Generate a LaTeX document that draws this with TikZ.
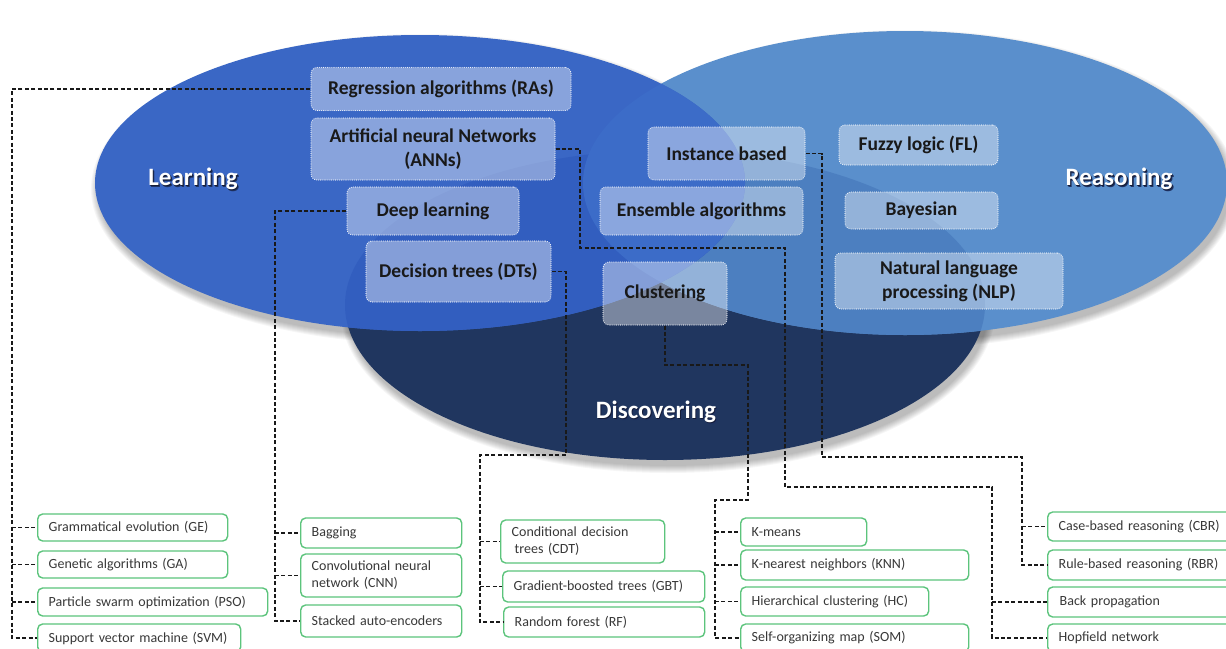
\documentclass[tikz,border=0pt]{standalone}
\usepackage{fontspec}
\setmainfont{Carlito}
\definecolor{learnC}{RGB}{58,103,197}
\definecolor{reasonC}{RGB}{90,143,204}
\definecolor{discC}{RGB}{32,54,95}
\definecolor{rdC}{RGB}{76,127,192}
\definecolor{ldC}{RGB}{50,94,191}
\definecolor{lrC}{RGB}{60,108,200}
\definecolor{gboxC}{RGB}{92,196,124}
\definecolor{lineC}{RGB}{25,25,25}
\definecolor{glowC}{RGB}{20,28,55}
\newcommand\gb[7]{\node[gbox, minimum width=#4pt, minimum height=#5pt, text width=#6pt] (#1) at (#2,#3) {#7};}
\newcommand\glowtext[1]{\makebox[0pt][l]{\hspace{1.6pt}\raisebox{-1.6pt}{\textcolor{glowC!70!learnC}{#1}}}\makebox[0pt][l]{\hspace{0.8pt}\raisebox{-0.8pt}{\textcolor{glowC}{#1}}}#1}
\begin{document}
\begin{tikzpicture}[x=1pt,y=-1pt,
  ubox/.style={draw=white, line width=1.1pt, dash pattern=on 0pt off 2.1pt, line cap=round,
    rounded corners=6pt, fill=white, fill opacity=0.4, text opacity=1, draw opacity=0.95,
    text=black!90, font=\fontsize{19.5}{24}\selectfont\bfseries, align=center, inner sep=0pt},
  gbox/.style={draw=gboxC, line width=1.4pt, rounded corners=5pt, fill=white, anchor=west,
    align=left, inner xsep=11pt, inner ysep=0pt, font=\fontsize{14}{17}\selectfont, text=black!78},
  conn/.style={draw=lineC, line width=1.8pt, dash pattern=on 4pt off 2.4pt},
  lbl/.style={text=white, font=\fontsize{25}{30}\selectfont\bfseries, inner sep=0pt}
]
\clip (0,0) rectangle (1226,648);
\fill[white] (0,0) rectangle (1226,648);

% soft shadows
\foreach \r in {0,1,...,7} {
  \fill[black, opacity=0.035] (668,311) ellipse [x radius=320pt+\r pt, y radius=155pt+\r pt];
  \fill[black, opacity=0.035] (908,189) ellipse [x radius=322pt+\r pt, y radius=152pt+\r pt];
  \fill[black, opacity=0.035] (423,189) ellipse [x radius=325pt+\r pt, y radius=148pt+\r pt];
}
% ellipses
\fill[discC] (665,305) ellipse [x radius=320pt, y radius=155pt];
\fill[reasonC] (905,183) ellipse [x radius=322pt, y radius=152pt];
\begin{scope}
  \clip (905,183) ellipse [x radius=322pt, y radius=152pt];
  \fill[rdC] (665,305) ellipse [x radius=320pt, y radius=155pt];
\end{scope}
\fill[learnC] (420,183) ellipse [x radius=325pt, y radius=148pt];
\begin{scope}
  \clip (420,183) ellipse [x radius=325pt, y radius=148pt];
  \fill[ldC] (665,305) ellipse [x radius=320pt, y radius=155pt];
  \fill[lrC] (905,183) ellipse [x radius=322pt, y radius=152pt];
\end{scope}

% ellipse labels
\node[lbl] (LL) at (193,180) {\glowtext{Learning}};
\node[lbl] (RL) at (1119,180) {\glowtext{Reasoning}};
\node[lbl] (DLab) at (656,413) {\glowtext{Discovering}};

% upper boxes
\node[ubox, minimum width=260pt, minimum height=43pt] (RA) at (441,89) {Regression algorithms (RAs)};
\node[ubox, minimum width=244pt, minimum height=62pt] (ANN) at (433,149) {Artificial neural Networks\\(ANNs)};
\node[ubox, minimum width=172pt, minimum height=48pt] (DL) at (433,211) {Deep learning};
\node[ubox, minimum width=185pt, minimum height=61pt] (DT) at (458.5,271.5) {Decision trees (DTs)};
\node[ubox, minimum width=157pt, minimum height=53pt] (IB) at (726.5,153.5) {Instance based};
\node[ubox, minimum width=203pt, minimum height=48pt] (EA) at (701.5,211) {Ensemble algorithms};
\node[ubox, minimum width=124pt, minimum height=63pt] (CL) at (665,293.5) {Clustering};
\node[ubox, minimum width=159pt, minimum height=40pt] (FL) at (918.5,145) {Fuzzy logic (FL)};
\node[ubox, minimum width=153pt, minimum height=37pt] (BA) at (921.5,210.5) {Bayesian};
\node[ubox, minimum width=228pt, minimum height=56pt] (NLP) at (949,281) {Natural language\\processing (NLP)};

% lower boxes
\gb{GE}{37}{527.5}{190}{27}{168}{Grammatical evolution (GE)}
\gb{GA}{37}{564.5}{190}{27}{168}{Genetic algorithms (GA)}
\gb{PSO}{37}{602}{230}{28}{208}{Particle swarm optimization (PSO)}
\gb{SVM}{37}{638}{203}{28}{181}{Support vector machine (SVM)}
\gb{BAG}{300}{533}{161}{30}{139}{Bagging}
\gb{CNN}{300}{575.5}{161}{43}{139}{Convolutional neural\\network (CNN)}
\gb{SAE}{300}{621}{161}{32}{139}{Stacked auto-encoders}
\gb{CDT}{500}{541.5}{164}{43}{142}{Conditional decision\\\hspace*{3pt}trees (CDT)}
\gb{GBT}{502}{586.5}{202}{31}{180}{Gradient-boosted trees (GBT)}
\gb{RF}{503}{622}{201}{30}{179}{Random forest (RF)}
\gb{KM}{740}{532}{126}{28}{104}{K-means}
\gb{KNN}{740}{565}{228}{30}{206}{K-nearest neighbors (KNN)}
\gb{HC}{740}{601.5}{188}{29}{166}{Hierarchical clustering (HC)}
\gb{SOM}{740}{638}{228}{28}{206}{Self-organizing map (SOM)}
\gb{CBR}{1047}{526.5}{200}{29}{178}{Case-based reasoning (CBR)}
\gb{RBR}{1047}{565}{200}{30}{178}{Rule-based reasoning (RBR)}
\gb{BP}{1047}{602}{200}{30}{178}{\hspace*{1pt}Back propagation}
\gb{HN}{1047}{638}{200}{28}{178}{Hopfield network}

% connectors
\coordinate (t1) at (12,89);
\draw[conn] (RA.west) -- (t1) |- (SVM.west);
\foreach \n in {GE,GA,PSO} \draw[conn] (t1 |- \n.west) -- (\n.west);

\coordinate (t2) at (275,211);
\draw[conn] (DL.west) -- (t2) |- (SAE.west);
\foreach \n in {BAG,CNN} \draw[conn] (t2 |- \n.west) -- (\n.west);

\coordinate (d1) at (566,455);
\coordinate (t3) at (480,455);
\draw[conn] (DT.east) -| (d1) -- (t3) |- (RF.west);
\foreach \n in {CDT,GBT} \draw[conn] (t3 |- \n.west) -- (\n.west);

\coordinate (c1) at (748,365);
\coordinate (c2) at (748,500);
\coordinate (t4) at (715,500);
\draw[conn] (CL.south) |- (c1) -- (c2) -- (t4) |- (SOM.west);
\foreach \n in {KM,KNN,HC} \draw[conn] (t4 |- \n.west) -- (\n.west);

\coordinate (a1) at (580,248);
\coordinate (a2) at (785,248);
\coordinate (a3) at (785,487);
\coordinate (t5) at (992,487);
\draw[conn] (ANN.east) -| (a1) -- (a2) -- (a3) -- (t5) |- (HN.west);
\draw[conn] (t5 |- BP.west) -- (BP.west);

\coordinate (i1) at (822,457);
\coordinate (t6) at (1022,457);
\draw[conn] (IB.east) -| (i1) -- (t6) |- (RBR.west);
\draw[conn] (t6 |- CBR.west) -- (CBR.west);
\end{tikzpicture}
\end{document}
